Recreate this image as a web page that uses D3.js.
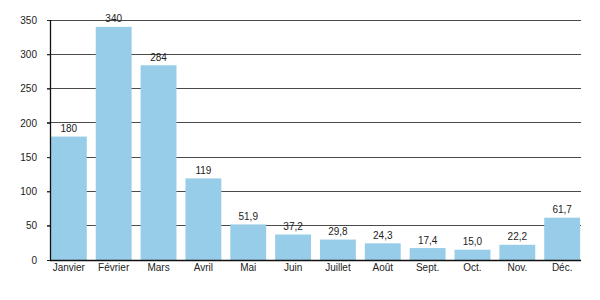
<!DOCTYPE html>
<html>
<head>
<meta charset="utf-8">
<style>
    body { margin: 0; background: #fff; }
    svg { display: block; font-family: 'Liberation Sans', Arial, sans-serif; }
</style>
</head>
<body>
<svg width="600" height="300"></svg>
<script src="https://d3js.org/d3.v7.min.js"></script>
<script>
    // monthly values
    let months = ["Janvier", "Février", "Mars", "Avril", "Mai", "Juin", "Juillet", "Août", "Sept.", "Oct.", "Nov.", "Déc."]
    let values = [180, 340, 284, 119, 51.9, 37.2, 29.8, 24.3, 17.4, 15.0, 22.2, 61.7]
    let labels = ["180", "340", "284", "119", "51,9", "37,2", "29,8", "24,3", "17,4", "15,0", "22,2", "61,7"]
    let yTicks = [0, 50, 100, 150, 200, 250, 300, 350]

    let svg = d3.select("svg")

    let x = d3.scaleBand()
        .domain(months)
        .range([50, 581])
        .paddingInner(0.2)
        .paddingOuter(0.02)

    let y = d3.scaleLinear()
        .domain([0, 350])
        .range([260, 20])

    // grid
    svg.selectAll(".grid")
        .data(yTicks.filter(d => d > 0))
        .join("line")
        .attr("x1", 47)
        .attr("x2", 581)
        .attr("y1", d => y(d))
        .attr("y2", d => y(d))
        .style("stroke", "#4a4a4a")
        .style("stroke-width", 1)
        .attr("shape-rendering", "crispEdges")

    // bars
    svg.selectAll(".bar")
        .data(values)
        .join("rect")
        .attr("x", (d, i) => x(months[i]))
        .attr("y", d => y(d))
        .attr("width", x.bandwidth())
        .attr("height", d => y(0) - y(d))
        .style("fill", "#97cde8")

    // value labels
    svg.selectAll(".val")
        .data(values)
        .join("text")
        .attr("x", (d, i) => x(months[i]) + x.bandwidth() / 2)
        .attr("y", d => y(d) - 4.5)
        .attr("text-anchor", "middle")
        .style("font-size", "10px")
        .style("fill", "#222")
        .text((d, i) => labels[i])

    // axes
    let yAxis = d3.axisLeft(y).tickValues(yTicks).tickSize(3).tickPadding(10)
    let ga = svg.append("g").attr("transform", "translate(50,0)").call(yAxis)
    ga.select(".domain").remove()
    ga.selectAll("text").style("font-size", "10px").style("fill", "#222").style("font-family", "'Liberation Sans', Arial, sans-serif")
    ga.selectAll("line").style("stroke", "#222")

    svg.append("line")
        .attr("x1", 50.5).attr("x2", 50.5)
        .attr("y1", 20).attr("y2", 260.5)
        .style("stroke", "#111")
        .style("stroke-width", 1.3)

    svg.append("line")
        .attr("x1", 50).attr("x2", 581)
        .attr("y1", 260.5).attr("y2", 260.5)
        .style("stroke", "#111")
        .style("stroke-width", 1.3)

    let xAxis = d3.axisBottom(x).tickSize(0).tickPadding(4)
    let gx = svg.append("g").attr("transform", "translate(0,260)").call(xAxis)
    gx.select(".domain").remove()
    gx.selectAll("text").style("font-size", "10px").style("fill", "#222").style("font-family", "'Liberation Sans', Arial, sans-serif")
</script>
</body>
</html>
